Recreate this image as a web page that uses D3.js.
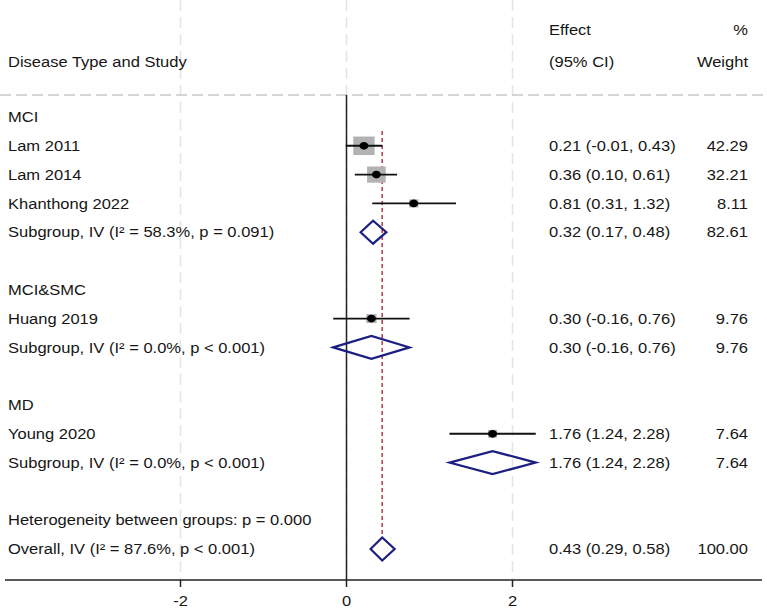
<!DOCTYPE html>
<html>
<head>
<meta charset="utf-8">
<script src="https://cdn.jsdelivr.net/npm/d3@7"></script>
<style>
  body { margin: 0; background: #fff; }
  svg text { font-family: "Liberation Sans", Arial, Helvetica, sans-serif; font-size: 14.5px; fill: #161616; }
</style>
</head>
<body>
<script>
const width = 767, height = 614;

// data
const groups = ["MCI", "MCI&SMC", "MD"];
const studyLabels = ["Lam 2011", "Lam 2014", "Khanthong 2022", "Huang 2019", "Young 2020"];
const studyGroup = [0, 0, 0, 1, 2];
const studyEffect = [0.21, 0.36, 0.81, 0.30, 1.76];
const studyLower = [-0.01, 0.10, 0.31, -0.16, 1.24];
const studyUpper = [0.43, 0.61, 1.32, 0.76, 2.28];
const studyWeight = [42.29, 32.21, 8.11, 9.76, 7.64];

const subEffect = [0.32, 0.30, 1.76];
const subLower = [0.17, -0.16, 1.24];
const subUpper = [0.48, 0.76, 2.28];
const subWeight = [82.61, 9.76, 7.64];
const subI2 = ["58.3%", "0.0%", "0.0%"];
const subP = ["p = 0.091", "p < 0.001", "p < 0.001"];

const overall = { effect: 0.43, lower: 0.29, upper: 0.58, weight: 100.00, i2: "87.6%", p: "p < 0.001" };
const betweenP = "p = 0.000";
const xTicks = [-2, 0, 2];

// build rows
let rows = [];
let r = 0;
groups.forEach(function(g, gi) {
    rows.push({ type: "group", row: r++, label: g });
    studyLabels.forEach(function(s, i) {
        if (studyGroup[i] !== gi) return;
        rows.push({ type: "study", row: r++, label: s, effect: studyEffect[i], lower: studyLower[i], upper: studyUpper[i], weight: studyWeight[i] });
    });
    rows.push({ type: "sub", row: r++, label: "Subgroup, IV (I\u00b2 = " + subI2[gi] + ", " + subP[gi] + ")",
        effect: subEffect[gi], lower: subLower[gi], upper: subUpper[gi], weight: subWeight[gi] });
    r++;
});
rows.push({ type: "het", row: r++, label: "Heterogeneity between groups: " + betweenP });
rows.push({ type: "sub", row: r++, label: "Overall, IV (I\u00b2 = " + overall.i2 + ", " + overall.p + ")",
    effect: overall.effect, lower: overall.lower, upper: overall.upper, weight: overall.weight, overall: true });

const x = d3.scaleLinear().domain([-2, 2]).range([180.5, 512.5]);
const y = d3.scaleLinear().domain([0, r - 1]).range([117, 549]);
const axisY = 580, headY = 95;
const fmt = v => d3.format(".2f")(v).replace("\u2212", "-");
const sx = 1.14;
const boxK = 2.85;

const svg = d3.select("body").append("svg")
    .attr("width", width)
    .attr("height", height);

function label(g, px, py, txt, anchor) {
    return g.append("text")
        .attr("transform", "translate(" + px + "," + py + ") scale(" + sx + ",1)")
        .attr("dy", "0.36em")
        .style("text-anchor", anchor || "start")
        .text(txt);
}

// grid
svg.selectAll(".grid")
    .data(xTicks)
    .enter()
    .append("line")
    .attr("class", "grid")
    .attr("x1", d => x(d)).attr("x2", d => x(d))
    .attr("y1", 0).attr("y2", axisY)
    .attr("stroke", "#e4e4e4")
    .attr("stroke-width", 1.5)
    .attr("stroke-dasharray", "11,6");

svg.append("line")
    .attr("x1", 0).attr("x2", width)
    .attr("y1", headY).attr("y2", headY)
    .attr("stroke", "#c8c8c8")
    .attr("stroke-width", 1.6)
    .attr("stroke-dasharray", "11,5");

// headers
label(svg, 549, 30, "Effect");
label(svg, 549, 62, "(95% CI)");
label(svg, 748, 30, "%", "end");
label(svg, 748, 62, "Weight", "end");
label(svg, 8, 62, "Disease Type and Study");

// null line
svg.append("line")
    .attr("x1", x(0)).attr("x2", x(0))
    .attr("y1", headY).attr("y2", axisY)
    .attr("stroke", "#222")
    .attr("stroke-width", 1.5);

// overall effect line
svg.append("line")
    .attr("x1", x(overall.effect)).attr("x2", x(overall.effect))
    .attr("y1", 131).attr("y2", y(r - 1) - 11.5)
    .attr("stroke", "#b03a48")
    .attr("stroke-width", 1.5)
    .attr("stroke-dasharray", "4,3");

// text rows
rows.forEach(function(d) {
    label(svg, 8, y(d.row), d.label);
    if (d.effect !== undefined) {
        label(svg, 549, y(d.row), fmt(d.effect) + " (" + fmt(d.lower) + ", " + fmt(d.upper) + ")");
        label(svg, 748, y(d.row), fmt(d.weight), "end");
    }
});

// studies
const studies = rows.filter(d => d.type === "study");
const sq = svg.selectAll(".study")
    .data(studies)
    .enter()
    .append("g")
    .attr("class", "study");
sq.append("rect")
    .attr("x", d => x(d.effect) - boxK * Math.sqrt(d.weight) * 1.15 / 2)
    .attr("y", d => y(d.row) - boxK * Math.sqrt(d.weight) / 2)
    .attr("width", d => boxK * Math.sqrt(d.weight) * 1.15)
    .attr("height", d => boxK * Math.sqrt(d.weight))
    .attr("fill", "#b2b2b2");
sq.append("line")
    .attr("x1", d => x(d.lower)).attr("x2", d => x(d.upper))
    .attr("y1", d => y(d.row)).attr("y2", d => y(d.row))
    .attr("stroke", "#111")
    .attr("stroke-width", 1.9);
sq.append("ellipse")
    .attr("cx", d => x(d.effect))
    .attr("cy", d => y(d.row))
    .attr("rx", 4.4).attr("ry", 3.9)
    .attr("fill", "#000");

// diamonds
const subs = rows.filter(d => d.type === "sub");
svg.selectAll(".diamond")
    .data(subs)
    .enter()
    .append("path")
    .attr("class", "diamond")
    .attr("d", function(d) {
        const cy = y(d.row), h = 11.5;
        return "M" + x(d.lower) + "," + cy + "L" + x(d.effect) + "," + (cy - h) +
            "L" + x(d.upper) + "," + cy + "L" + x(d.effect) + "," + (cy + h) + "Z";
    })
    .attr("fill", "none")
    .attr("stroke", "#1c1f82")
    .attr("stroke-width", 2.2);

// axis
svg.append("line")
    .attr("x1", 5).attr("x2", 762)
    .attr("y1", axisY).attr("y2", axisY)
    .attr("stroke", "#222")
    .attr("stroke-width", 1.5);
svg.selectAll(".tick")
    .data(xTicks)
    .enter()
    .append("line")
    .attr("class", "tick")
    .attr("x1", d => x(d)).attr("x2", d => x(d))
    .attr("y1", axisY).attr("y2", axisY + 7)
    .attr("stroke", "#222")
    .attr("stroke-width", 1.5);
xTicks.forEach(function(t) {
    label(svg, x(t), 601, fmt(t).replace(".00", ""), "middle");
});
</script>
</body>
</html>
